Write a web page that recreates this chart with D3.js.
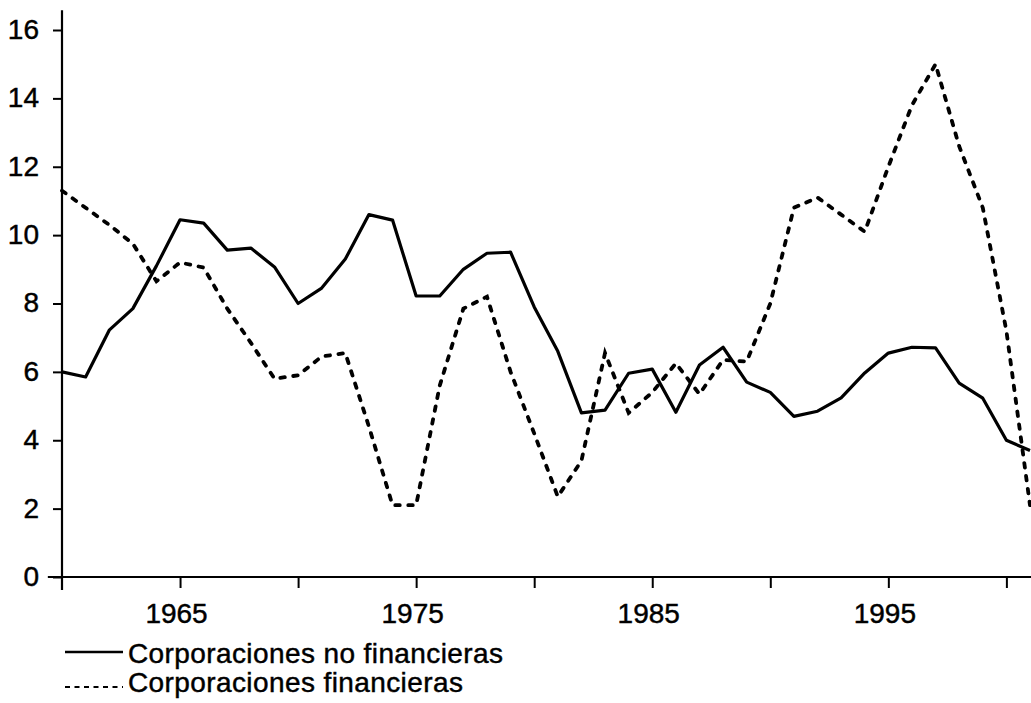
<!DOCTYPE html>
<html>
<head>
<meta charset="utf-8">
<script src="https://cdn.jsdelivr.net/npm/d3@7"></script>
<style>
  html, body { margin: 0; padding: 0; background: #fff; }
  svg { display: block; }
  text { font-family: "Liberation Sans", Arial, Helvetica, sans-serif; fill: #000; stroke: #000; stroke-width: 0.45px; }
</style>
</head>
<body>
<svg id="chart" width="1031" height="703"></svg>
<script>
const years = d3.range(1960, 2002);
const noFinancieras = [6.0, 5.85, 7.22, 7.85, 9.1, 10.45, 10.35, 9.56, 9.62, 9.07,
  8.0, 8.45, 9.3, 10.6, 10.44, 8.22, 8.22, 9.0, 9.47, 9.5,
  7.9, 6.6, 4.8, 4.88, 5.96, 6.08, 4.82, 6.2, 6.72, 5.7,
  5.4, 4.7, 4.85, 5.24, 5.97, 6.55, 6.72, 6.7, 5.67, 5.23,
  4.0, 3.7];
const financieras = [11.3, 10.8, 10.3, 9.75, 8.65, 9.2, 9.05, 7.85, 6.85, 5.8,
  5.9, 6.45, 6.55, 4.4, 2.1, 2.1, 5.6, 7.85, 8.2, 6.0,
  4.2, 2.35, 3.4, 6.55, 4.8, 5.4, 6.25, 5.35, 6.35, 6.3,
  8.0, 10.8, 11.1, 10.6, 10.1, 12.0, 13.8, 15.0, 12.6, 10.8,
  7.2, 2.1];
const yTicks = [0, 2, 4, 6, 8, 10, 12, 14, 16];
const xTicks = [1965, 1970, 1975, 1980, 1985, 1990, 1995, 2000];
const xLabels = [1965, 1975, 1985, 1995];
const legendLabels = ["Corporaciones no financieras", "Corporaciones financieras"];

const svg = d3.select("#chart");
const x = d3.scaleLinear().domain([1960, 2001]).range([62, 1030]);
const y = d3.scaleLinear().domain([0, 16]).range([577, 30]);

// Y axis
const yAxis = svg.append("g").attr("transform", `translate(${x(1960)},0)`)
  .call(d3.axisLeft(y).tickValues(yTicks).tickSize(9).tickPadding(14).tickFormat(d3.format("d")));
yAxis.select(".domain").remove();
yAxis.selectAll(".tick line").attr("stroke", "#000").attr("stroke-width", 2);
yAxis.selectAll(".tick text").attr("font-size", 28).attr("font-family", null).attr("dy", "0.3em");

// X axis
const xAxis = svg.append("g").attr("transform", `translate(0,${y(0)})`)
  .call(d3.axisBottom(x).tickValues(xTicks).tickSize(11)
    .tickFormat(d => xLabels.includes(d) ? String(d) : ""));
xAxis.select(".domain").remove();
xAxis.selectAll(".tick line").attr("stroke", "#000").attr("stroke-width", 2);
xAxis.selectAll(".tick text").attr("font-size", 28).attr("font-family", null)
  .attr("y", 46).attr("dy", null).attr("dx", -4);

// axis lines
svg.append("line").attr("x1", x(1960)).attr("x2", x(1960))
  .attr("y1", y(16.58)).attr("y2", y(-0.38)).attr("stroke", "#000").attr("stroke-width", 2.2);
svg.append("line").attr("x1", x(1959.4)).attr("x2", 1031)
  .attr("y1", y(0)).attr("y2", y(0)).attr("stroke", "#000").attr("stroke-width", 2.2);

// Lines
const line = d3.line().x((d, i) => x(years[i])).y(d => y(d));
svg.append("path").datum(noFinancieras).attr("d", line)
  .attr("fill", "none").attr("stroke", "#000").attr("stroke-width", 3.2)
  .attr("stroke-linejoin", "round");
svg.append("path").datum(financieras).attr("d", line)
  .attr("fill", "none").attr("stroke", "#000").attr("stroke-width", 3.8)
  .attr("stroke-linecap", "round").attr("stroke-dasharray", "4.5,8.5");

// Legend
const lg = svg.append("g");
lg.append("line").attr("x1", 65).attr("x2", 123).attr("y1", 652).attr("y2", 652)
  .attr("stroke", "#000").attr("stroke-width", 2.6);
lg.append("line").attr("x1", 65).attr("x2", 123).attr("y1", 687).attr("y2", 687)
  .attr("stroke", "#000").attr("stroke-width", 2.2).attr("stroke-dasharray", "5,4.5");
lg.selectAll("text.lab").data(legendLabels).join("text").attr("class", "lab")
  .attr("x", 128).attr("y", (d, i) => i === 0 ? 663 : 692)
  .attr("font-size", 28).style("letter-spacing", "0.4px").text(d => d);
</script>
</body>
</html>
